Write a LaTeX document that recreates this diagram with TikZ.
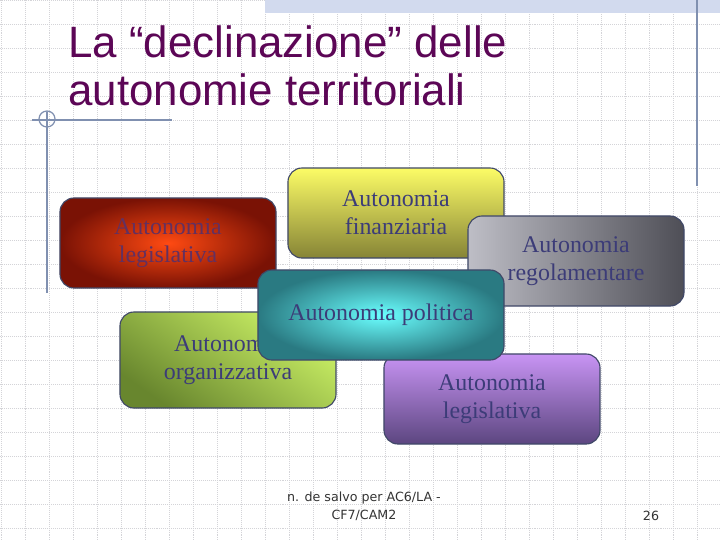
\documentclass[tikz,border=0pt]{standalone}
\usepackage{fontspec}
\setmainfont{Liberation Serif}
\newfontfamily\titlefont{Liberation Sans}
\newfontfamily\footfont{DejaVu Sans}

\definecolor{gridgray}{HTML}{D4D4D8}
\definecolor{bandblue}{HTML}{D2DAEE}
\definecolor{rulerblue}{HTML}{8090B0}
\definecolor{titlepurple}{HTML}{5C0656}
\definecolor{boxline}{HTML}{404868}
\definecolor{boxtext}{HTML}{3C3C78}
\definecolor{redin}{HTML}{FF4A12}
\definecolor{redout}{HTML}{7A1205}
\definecolor{yellowtop}{HTML}{FCFC66}
\definecolor{yellowbot}{HTML}{868436}
\definecolor{grayleft}{HTML}{BEBEC6}
\definecolor{grayright}{HTML}{4E4E56}
\definecolor{greenlight}{HTML}{CCF266}
\definecolor{greendark}{HTML}{68862E}
\definecolor{purpletop}{HTML}{C894F4}
\definecolor{purplebot}{HTML}{5C4680}
\definecolor{cyanin}{HTML}{6AFFFF}
\definecolor{cyanout}{HTML}{2A7A82}

\tikzset{
  gridline/.style={gridgray, densely dotted, line width=0.4pt},
  ruler/.style={rulerblue, line width=0.9pt},
  titletext/.style={anchor=base west, inner sep=0pt, text=titlepurple,
    font=\titlefont\fontsize{31.2}{34}\selectfont},
  autbox/.style={draw=boxline, line width=0.8pt, rounded corners=0.35cm,
    minimum width=5.4cm, minimum height=2.25cm, align=center,
    font=\fontsize{17}{20}\selectfont, text=boxtext},
  foot/.style={font=\footfont\fontsize{9}{13}\selectfont, text=black!80, align=center}
}

\begin{document}
\begin{tikzpicture}[x=0.025cm, y=-0.025cm]
\useasboundingbox (0,0) rectangle (720,540);

% draw background grid
\foreach \x in {1,25,...,697}
  \draw[gridline] (\x,0) -- (\x,540);
\foreach \y in {0,24,...,528}
  \draw[gridline] (0,\y) -- (720,\y);

% draw top band and rulers
\fill[bandblue] (265,0) rectangle (720,12.5);
\draw[ruler] (697,0) -- (697,186);
\draw[ruler] (32,120) -- (172,120);
\draw[ruler] (47,112) -- (47,293);
\draw[ruler] (47,119) circle[radius=8];

% draw title
\node[titletext] (title1) at (68,57) {La “declinazione” delle};
\node[titletext] (title2) at (68,105) {autonomie territoriali};

% draw boxes
\node[autbox, inner color=redin, outer color=redout, text=boxtext!80!red]
  (legred) at (168,243) {Autonomia\\legislativa};
\node[autbox, top color=yellowtop, bottom color=yellowbot]
  (finanz) at (396,213) {Autonomia\\finanziaria};
\node[autbox, left color=grayleft, right color=grayright]
  (regol) at (576,261) {Autonomia\\regolamentare};
\node[autbox, minimum height=2.4cm, top color=greenlight, bottom color=greendark, shading angle=-35]
  (organ) at (228,360) {Autonomia\\organizzativa};
\node[autbox, top color=purpletop, bottom color=purplebot]
  (legpur) at (492,399) {Autonomia\\legislativa};
\node[autbox, minimum width=6.15cm, inner color=cyanin, outer color=cyanout]
  (polit) at (381,315) {Autonomia politica};

% draw footer
\node[foot] (author) at (364,506) {n. de salvo per AC6/LA -\\CF7/CAM2};
\node[foot] (page) at (651,516) {26};
\end{tikzpicture}
\end{document}
